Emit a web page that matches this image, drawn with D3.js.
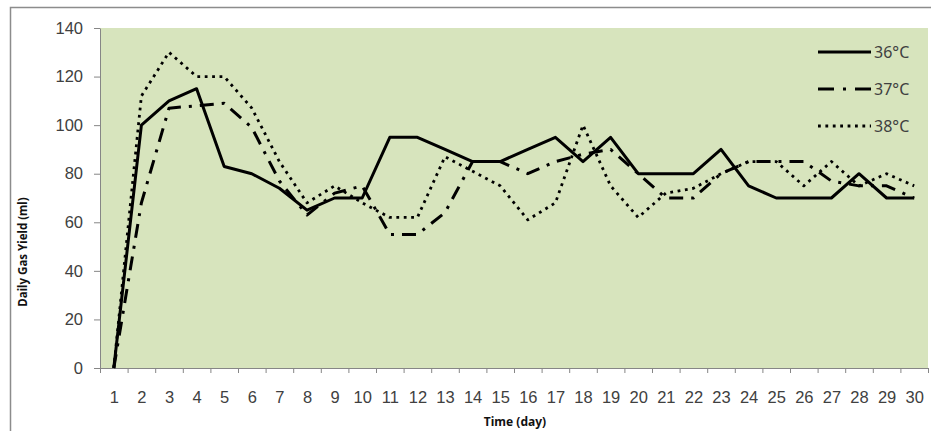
<!DOCTYPE html>
<html>
<head>
<meta charset="utf-8">
<script src="https://cdn.jsdelivr.net/npm/d3@7"></script>
<style>
  body { margin: 0; background: #fff; }
  svg { display: block; font-family: "Noto Sans", "Open Sans", sans-serif; }
  .tick text { fill: #404040; }
</style>
</head>
<body>
<div id="chart"></div>
<script>
// Days on the x axis
const days = d3.range(1, 31);

// Daily gas yield (ml) per temperature
const yield36 = [0, 100, 110, 115, 83, 80, 74, 65, 70, 70, 95, 95, 90, 85, 85, 90, 95, 85, 95, 80, 80, 80, 90, 75, 70, 70, 70, 80, 70, 70];
const yield37 = [0, 68, 107, 108, 109, 99, 77, 63, 72, 75, 55, 55, 64, 85, 85, 80, 85, 88, 90, 80, 70, 70, 80, 85, 85, 85, 77, 75, 75, 70];
const yield38 = [0, 112, 130, 120, 120, 107, 85, 68, 75, 68, 62, 62, 87, 81, 75, 61, 68, 100, 75, 62, 72, 74, 80, 85, 85, 75, 85, 75, 80, 75];

const seriesNames = ["36°C", "37°C", "38°C"];
const yTicks = [0, 20, 40, 60, 80, 100, 120, 140];

// line styles for each series
const styles = [
  {dash: null, width: 3},
  {dash: "14,8,3,8", width: 3},
  {dash: "2.8,4.6", width: 2.8}
];

const W = 931, H = 431;
const margin = {top: 28, right: 3, bottom: 63, left: 100};
const width = W - margin.left - margin.right;
const height = H - margin.top - margin.bottom;

const svg = d3.select("#chart").append("svg")
    .attr("width", W)
    .attr("height", H);

// outer chart border
svg.append("rect")
    .attr("x", 10.5).attr("y", 7.5)
    .attr("width", 940).attr("height", 440)
    .attr("fill", "#fff")
    .attr("stroke", "#8c8c8c")
    .attr("stroke-width", 1.5);

const g = svg.append("g")
    .attr("transform", `translate(${margin.left},${margin.top})`);

// plot area background
g.append("rect")
    .attr("width", width)
    .attr("height", height)
    .attr("fill", "#d7e4bd");

const x = d3.scaleLinear()
    .domain([0.5, 30.5])
    .range([0, width]);

const y = d3.scaleLinear()
    .domain([0, 140])
    .range([height, 0]);

// y axis
const yAxis = g.append("g")
    .call(d3.axisLeft(y).tickValues(yTicks).tickSize(6).tickSizeOuter(0).tickPadding(11));
yAxis.selectAll("text").style("font-size", "16.5px");

// x axis: tick marks between days, labels under day centres
g.append("g")
    .attr("transform", `translate(0,${height})`)
    .call(d3.axisBottom(x).tickValues(d3.range(0.5, 31, 1)).tickSize(5).tickFormat(""));

const xLabels = g.append("g")
    .attr("transform", `translate(0,${height})`)
    .call(d3.axisBottom(x).tickValues(days).tickSize(0).tickPadding(23).tickFormat(d3.format("d")));
xLabels.select(".domain").remove();
xLabels.selectAll("text").style("font-size", "16.5px");

g.selectAll(".domain").attr("stroke", "#868686");
g.selectAll(".tick line").attr("stroke", "#868686");

// axis titles
svg.append("text")
    .attr("transform", "rotate(-90)")
    .attr("x", -252)
    .attr("y", 27)
    .style("text-anchor", "middle")
    .style("font-size", "11.5px")
    .style("font-weight", "bold")
    .attr("fill", "#111")
    .text("Daily Gas Yield (ml)");

svg.append("text")
    .attr("x", 515)
    .attr("y", 426)
    .style("text-anchor", "middle")
    .style("font-size", "12px")
    .style("font-weight", "bold")
    .attr("fill", "#111")
    .text("Time (day)");

// lines
const line = d3.line()
    .x((d, i) => x(days[i]))
    .y(d => y(d));

[yield36, yield37, yield38].forEach((values, i) => {
  g.append("path")
      .datum(values)
      .attr("fill", "none")
      .attr("stroke", "#000")
      .attr("stroke-width", styles[i].width)
      .attr("stroke-dasharray", styles[i].dash)
      .attr("stroke-linejoin", "round")
      .attr("d", line);
});

// legend
const legend = svg.append("g")
    .attr("transform", "translate(818,52)");

seriesNames.forEach((name, i) => {
  legend.append("line")
      .attr("x1", 0).attr("x2", 53)
      .attr("y1", i * 37).attr("y2", i * 37)
      .attr("stroke", "#000")
      .attr("stroke-width", styles[i].width)
      .attr("stroke-dasharray", i === 1 ? "16,9,3,9" : styles[i].dash);
  legend.append("text")
      .attr("x", 56)
      .attr("y", i * 37)
      .attr("dy", "0.35em")
      .style("font-size", "16px")
      .attr("fill", "#404040")
      .text(name);
});
</script>
</body>
</html>
